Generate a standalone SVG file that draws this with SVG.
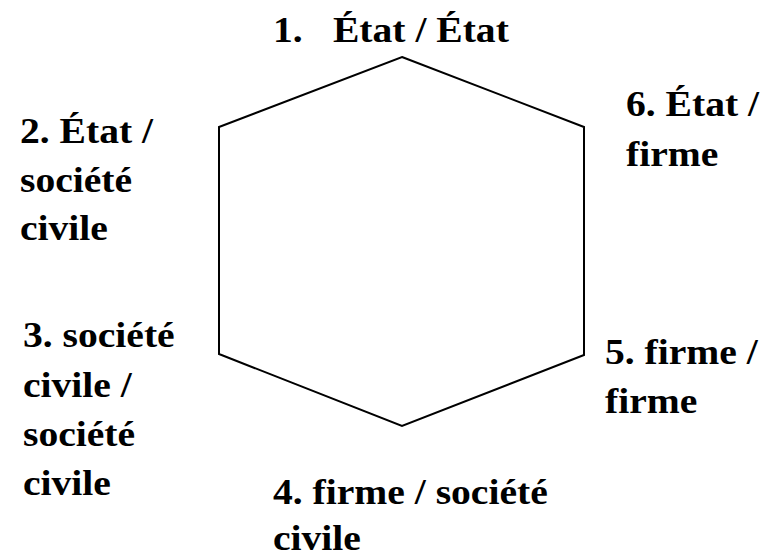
<svg xmlns="http://www.w3.org/2000/svg" width="770" height="558" viewBox="0 0 770 558">
<style>
.lbl{font-family:"Liberation Serif","Times New Roman",serif;font-weight:bold;font-size:36px;fill:#000}
.hex{fill:none;stroke:#000;stroke-width:2;stroke-linejoin:miter}
</style>
<rect width="770" height="558" fill="#fff"/>
<g id="connectors">
<polygon class="hex" points="402,57 584,127 584,355 402,426 219,354 219,127"/>
</g>
<g id="node1" transform="translate(273,0) scale(1.1,1)">
<text class="lbl" x="0" y="42">1.<tspan x="54.5">État / État</tspan></text>
</g>
<g id="node2" transform="translate(20,0) scale(1.1,1)">
<text class="lbl" x="0" y="143">2. État /</text>
<text class="lbl" x="0" y="192">société</text>
<text class="lbl" x="0" y="240">civile</text>
</g>
<g id="node3" transform="translate(23,0) scale(1.1,1)">
<text class="lbl" x="0" y="347">3. société</text>
<text class="lbl" x="0" y="397">civile /</text>
<text class="lbl" x="0" y="446">société</text>
<text class="lbl" x="0" y="495">civile</text>
</g>
<g id="node4" transform="translate(273,0) scale(1.1,1)">
<text class="lbl" x="0" y="504">4. firme / société</text>
<text class="lbl" x="0" y="550">civile</text>
</g>
<g id="node5" transform="translate(605,0) scale(1.1,1)">
<text class="lbl" x="0" y="364">5. firme /</text>
<text class="lbl" x="0" y="413">firme</text>
</g>
<g id="node6" transform="translate(626,0) scale(1.1,1)">
<text class="lbl" x="0" y="116">6. État /</text>
<text class="lbl" x="0" y="166">firme</text>
</g>
</svg>
